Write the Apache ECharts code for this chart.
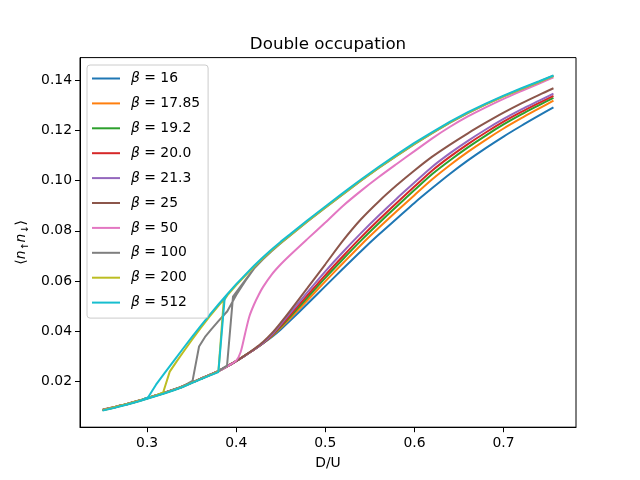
<!DOCTYPE html>
<html><head><meta charset="utf-8">
<script src="https://cdn.jsdelivr.net/npm/echarts@6/dist/echarts.min.js"></script>
<style>html,body{margin:0;padding:0;background:#fff}#c{width:640px;height:480px}</style>
</head><body><div id="c"></div>
<script>
// ---- data ----
const betaLabels = ['16', '17.85', '19.2', '20.0', '21.3', '25', '50', '100', '200', '512'];
const xTicks = [0.3, 0.4, 0.5, 0.6, 0.7];
const yTicks = [0.02, 0.04, 0.06, 0.08, 0.10, 0.12, 0.14];

// common D/U grid used by beta <= 25
const duGrid = [0.25,0.26,0.27,0.28,0.29,0.30,0.31,0.32,0.33,0.34,0.35,0.36,0.37,0.38,0.39,0.40,0.41,0.42,0.43,
  0.44,0.45,0.46,0.48,0.50,0.52,0.54,0.56,0.58,0.60,0.62,0.64,0.66,0.68,0.70,0.72,0.74,0.756];

const d16 = [0.0088,0.0096,0.0105,0.0114,0.0124,0.0135,0.0146,0.0157,0.0169,0.0182,0.0197,0.0212,0.0227,0.0243,0.0262,0.0283,0.0305,0.0328,0.0352,
  0.0378,0.0408,0.0441,0.0510,0.0580,0.0650,0.0719,0.0785,0.0848,0.0911,0.0970,0.1027,0.1080,0.1129,0.1175,0.1218,0.1259,0.1291];
const d17_85 = [0.0088,0.0096,0.0105,0.0114,0.0124,0.0135,0.0146,0.0157,0.0169,0.0182,0.0197,0.0212,0.0227,0.0243,0.0262,0.0283,0.0305,0.0328,0.0353,
  0.0381,0.0414,0.0450,0.0524,0.0599,0.0672,0.0744,0.0812,0.0878,0.0942,0.1005,0.1062,0.1114,0.1162,0.1207,0.1248,0.1287,0.1318];
const d19_2 = [0.0087,0.0095,0.0104,0.0113,0.0123,0.0134,0.0145,0.0156,0.0168,0.0181,0.0196,0.0211,0.0226,0.0242,0.0261,0.0282,0.0304,0.0327,0.0353,
  0.0383,0.0419,0.0457,0.0535,0.0613,0.0688,0.0761,0.0830,0.0897,0.0962,0.1026,0.1081,0.1132,0.1179,0.1223,0.1263,0.1300,0.1329];
const d20_0 = [0.0087,0.0095,0.0104,0.0113,0.0123,0.0134,0.0145,0.0156,0.0168,0.0181,0.0196,0.0211,0.0226,0.0242,0.0261,0.0282,0.0304,0.0327,0.0353,
  0.0385,0.0423,0.0463,0.0544,0.0624,0.0700,0.0774,0.0844,0.0911,0.0976,0.1040,0.1095,0.1145,0.1191,0.1234,0.1273,0.1309,0.1337];
const d21_3 = [0.0087,0.0095,0.0104,0.0113,0.0123,0.0134,0.0145,0.0156,0.0168,0.0181,0.0196,0.0211,0.0226,0.0242,0.0261,0.0282,0.0304,0.0328,0.0354,
  0.0387,0.0428,0.0471,0.0556,0.0639,0.0717,0.0791,0.0861,0.0928,0.0992,0.1055,0.1109,0.1158,0.1203,0.1245,0.1283,0.1318,0.1346];
const d25 = [0.0087,0.0095,0.0104,0.0113,0.0123,0.0134,0.0145,0.0156,0.0168,0.0181,0.0196,0.0211,0.0226,0.0242,0.0261,0.0282,0.0305,0.0330,0.0358,
  0.0393,0.0435,0.0480,0.0573,0.0667,0.0762,0.0846,0.0917,0.0981,0.1040,0.1095,0.1143,0.1188,0.1230,0.1270,0.1307,0.1341,0.1367];

// beta = 50
const x50 = [0.25,0.26,0.27,0.28,0.29,0.30,0.31,0.32,0.33,0.34,0.35,0.36,0.37,0.38,0.39,0.40,
  0.405,0.41,0.415,0.42,0.425,0.43,0.44,0.45,0.46,
  0.48,0.50,0.52,0.54,0.56,0.58,0.60,0.62,0.64,0.66,0.68,0.70,0.72,0.74,0.756];
const d50 = [0.0087,0.0095,0.0104,0.0113,0.0123,0.0134,0.0145,0.0156,0.0168,0.0181,0.0196,0.0211,0.0226,0.0242,0.0261,0.0284,
  0.0318,0.0392,0.0462,0.0507,0.0544,0.0576,0.0627,0.0667,0.0702,
  0.0768,0.0833,0.0900,0.0959,0.1014,0.1066,0.1117,0.1168,0.1214,0.1255,0.1291,0.1325,0.1356,0.1386,0.1411];

// beta = 100 (sweep up, then sweep down)
const x100up = [0.25,0.26,0.27,0.28,0.29,0.30,0.31,0.32,0.33,0.34,0.35,0.36,0.37,0.38,0.3897,0.3964,0.41,
  0.42,0.43,0.44,0.45,0.46,0.48,0.50,0.52,0.54,0.56,0.58,0.60,0.62,0.64,0.66,0.68,0.70,0.72,0.74];
const d100up = [0.0087,0.0095,0.0104,0.0113,0.0123,0.0134,0.0145,0.0156,0.0168,0.0181,0.0196,0.0211,0.0226,0.0242,0.0264,0.0538,0.0603,
  0.0650,0.0687,0.0720,0.0751,0.0780,0.0837,0.0892,0.0946,0.0999,0.1050,0.1098,0.1145,0.1189,0.1230,0.1268,0.1303,0.1335,0.1364,0.1393];
const x100down = [0.756,0.74,0.72,0.70,0.68,0.66,0.64,0.62,0.60,0.58,0.56,0.54,0.52,0.50,0.48,0.46,0.45,0.44,0.43,0.42,0.41,0.40,0.39,0.38,
  0.372,0.365,0.3583,0.351,0.34,0.33,0.32,0.31,0.30,0.29,0.28,0.27,0.26,0.25];
const d100down = [0.1417,0.1393,0.1364,0.1335,0.1303,0.1268,0.1230,0.1189,0.1145,0.1098,0.1050,0.0999,0.0946,0.0892,0.0837,0.0780,0.0751,0.0720,0.0687,0.0650,0.0600,0.0545,0.0480,0.0441,
  0.0408,0.0378,0.0340,0.0203,0.0181,0.0168,0.0156,0.0145,0.0134,0.0123,0.0113,0.0104,0.0095,0.0087];

// beta = 200
const x200up = [0.25,0.26,0.27,0.28,0.29,0.30,0.31,0.32,0.33,0.34,0.35,0.36,0.37,0.380,0.386,
  0.39,0.40,0.41,0.42,0.43,0.44,0.45,0.46,0.48,0.50,0.52,0.54,0.56,0.58,0.60,0.62,0.64,0.66,0.68,0.70,0.72,0.74];
const d200up = [0.0086,0.0094,0.0103,0.0112,0.0122,0.0133,0.0144,0.0155,0.0167,0.0180,0.0195,0.0210,0.0225,0.0240,0.0522,
  0.0543,0.0584,0.0621,0.0657,0.0691,0.0723,0.0753,0.0781,0.0838,0.0893,0.0947,0.1000,0.1051,0.1099,0.1146,0.1190,0.1231,0.1269,0.1303,0.1335,0.1364,0.1392];
const x200down = [0.756,0.74,0.72,0.70,0.68,0.66,0.64,0.62,0.60,0.58,0.56,0.54,0.52,0.50,0.48,0.46,0.45,0.44,0.43,0.42,0.41,0.40,0.39,
  0.38,0.37,0.36,0.35,0.34,0.333,0.3254,0.318,0.31,0.30,0.29,0.28,0.27,0.26,0.25];
const d200down = [0.1416,0.1392,0.1364,0.1335,0.1303,0.1269,0.1231,0.1190,0.1146,0.1099,0.1051,0.1000,0.0947,0.0893,0.0838,0.0781,0.0753,0.0723,0.0691,0.0657,0.0621,0.0584,0.0543,
  0.0502,0.0459,0.0413,0.0365,0.0315,0.0280,0.0240,0.0157,0.0145,0.0134,0.0123,0.0113,0.0104,0.0095,0.0087];

// beta = 512
const x512up = [0.25,0.26,0.27,0.28,0.29,0.30,0.31,0.32,0.33,0.34,0.35,0.36,0.37,0.380,0.387,
  0.39,0.40,0.41,0.42,0.43,0.44,0.45,0.46,0.48,0.50,0.52,0.54,0.56,0.58,0.60,0.62,0.64,0.66,0.68,0.70,0.72,0.74];
const d512up = [0.0085,0.0093,0.0102,0.0111,0.0121,0.0132,0.0143,0.0154,0.0166,0.0179,0.0194,0.0209,0.0224,0.0238,0.0530,
  0.0548,0.0588,0.0625,0.0661,0.0695,0.0727,0.0757,0.0785,0.0842,0.0897,0.0951,0.1004,0.1055,0.1103,0.1150,0.1193,0.1234,0.1272,0.1306,0.1338,0.1367,0.1395];
const x512down = [0.756,0.74,0.72,0.70,0.68,0.66,0.64,0.62,0.60,0.58,0.56,0.54,0.52,0.50,0.48,0.46,0.45,0.44,0.43,0.42,0.41,0.40,0.39,
  0.38,0.37,0.36,0.35,0.34,0.33,0.32,0.31,0.301,0.29,0.28,0.27,0.26,0.25];
const d512down = [0.1418,0.1395,0.1367,0.1338,0.1306,0.1272,0.1234,0.1193,0.1150,0.1103,0.1055,0.1004,0.0951,0.0897,0.0842,0.0785,0.0757,0.0727,0.0695,0.0661,0.0625,0.0588,0.0548,
  0.0507,0.0465,0.0421,0.0376,0.0330,0.0283,0.0236,0.0188,0.0137,0.0121,0.0111,0.0102,0.0093,0.0085];

// ---- build ----
const colors = ['#1f77b4','#ff7f0e','#2ca02c','#d62728','#9467bd','#8c564b','#e377c2','#7f7f7f','#bcbd22','#17becf'];
const seriesXY = [
  [duGrid, d16], [duGrid, d17_85], [duGrid, d19_2], [duGrid, d20_0], [duGrid, d21_3], [duGrid, d25],
  [x50, d50],
  [x100up.concat(x100down), d100up.concat(d100down)],
  [x200up.concat(x200down), d200up.concat(d200down)],
  [x512up.concat(x512down), d512up.concat(d512down)]
];
const smoothed = [true, true, true, true, true, true, true, false, false, false];
const names = betaLabels.map(b => 'β = ' + b);
const font = 'DejaVu Sans';

const chart = echarts.init(document.getElementById('c'), null, {renderer: 'canvas'});
chart.setOption({
  animation: false,
  backgroundColor: '#ffffff',
  color: colors,
  title: {
    text: 'Double occupation', left: 328, top: 36, textAlign: 'center', padding: 0,
    textStyle: {fontFamily: font, fontSize: 16.7, fontWeight: 'normal', color: '#000'}
  },
  legend: {
    orient: 'vertical', left: 87, top: 65, icon: 'rect', itemWidth: 28, itemHeight: 2, itemGap: 8.9,
    padding: [5.5, 8, 7.5, 5], borderColor: '#cccccc', borderWidth: 1, borderRadius: 3,
    backgroundColor: 'rgba(255,255,255,0.8)',
    data: names,
    formatter: n => '{g|β}{t| = ' + n.slice(4) + '}',
    textStyle: {
      fontFamily: font, fontSize: 13.9, color: '#000', lineHeight: 16,
      rich: {
        g: {fontFamily: font, fontSize: 13.9, fontStyle: 'italic', color: '#000', padding: [0, 0, 0, 6], lineHeight: 16},
        t: {fontFamily: font, fontSize: 13.9, color: '#000', lineHeight: 16}
      }
    }
  },
  grid: {left: 80, right: 64, top: 57.6, bottom: 52.8, show: true, borderColor: '#000', borderWidth: 1, containLabel: false},
  xAxis: {
    type: 'value', min: 0.2247, max: 0.7813,
    name: 'D/U', nameLocation: 'middle', nameGap: 29,
    nameTextStyle: {fontFamily: font, fontSize: 13.9, color: '#000'},
    axisLine: {show: true, onZero: false, lineStyle: {color: '#000', width: 1}},
    axisTick: {show: true, customValues: xTicks, length: 5, lineStyle: {color: '#000', width: 1}},
    axisLabel: {customValues: xTicks, formatter: v => v.toFixed(1), margin: 9, color: '#000', fontFamily: font, fontSize: 13.9},
    splitLine: {show: false}
  },
  yAxis: {
    type: 'value', min: 0.0019, max: 0.1489,
    name: '{a|⟨}{n|n}{s|↑}{n|n}{s|↓}{a|⟩}', nameLocation: 'middle', nameGap: 44,
    nameTextStyle: {
      fontFamily: font, fontSize: 13.9, color: '#000',
      rich: {
        a: {fontFamily: font, fontSize: 13.9, color: '#000', lineHeight: 18},
        n: {fontFamily: font, fontSize: 13.9, fontStyle: 'italic', color: '#000', lineHeight: 18},
        s: {fontFamily: font, fontSize: 9.7, color: '#000', lineHeight: 10, verticalAlign: 'bottom'}
      }
    },
    axisLine: {show: true, onZero: false, lineStyle: {color: '#000', width: 1}},
    axisTick: {show: true, customValues: yTicks, length: 5, lineStyle: {color: '#000', width: 1}},
    axisLabel: {customValues: yTicks, formatter: v => v.toFixed(2), margin: 8, color: '#000', fontFamily: font, fontSize: 13.9},
    splitLine: {show: false}
  },
  series: seriesXY.map((xy, i) => ({
    name: names[i], type: 'line', showSymbol: false, symbol: 'none',
    smooth: smoothed[i] ? 0.3 : false,
    lineStyle: {width: 2, color: colors[i]}, itemStyle: {color: colors[i]},
    emphasis: {disabled: true}, clip: true,
    data: xy[0].map((x, j) => [x, xy[1][j]])
  }))
});
</script></body></html>
